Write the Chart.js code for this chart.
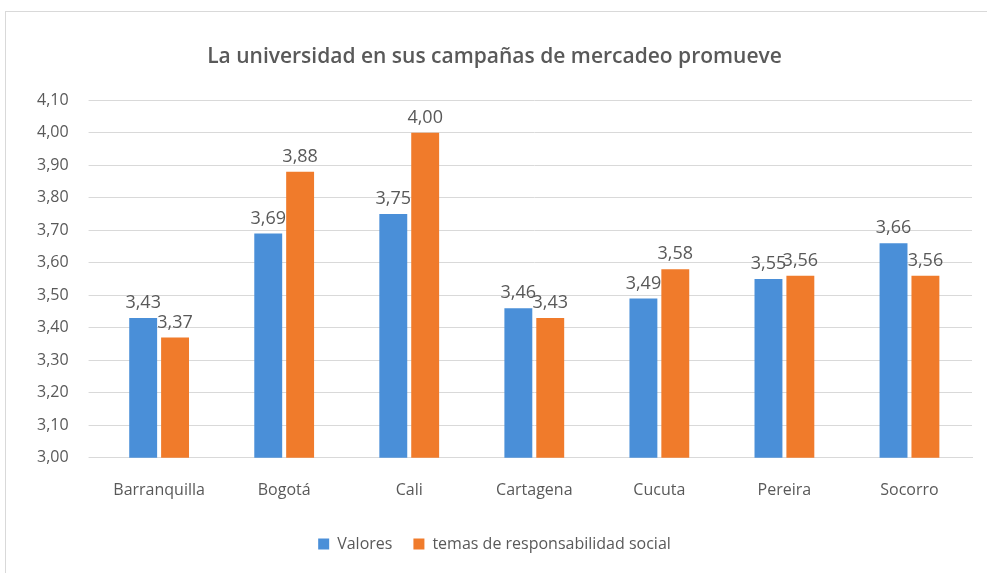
<!DOCTYPE html>
<html>
<head>
<meta charset="utf-8">
<script src="https://cdn.jsdelivr.net/npm/chart.js@4"></script>
<style>
  html, body { margin: 0; padding: 0; background: #fff; overflow: hidden; }
  #marco { position: absolute; left: 5px; top: 11px; width: 990px; height: 580px; border: 1px solid #d9d9d9; box-sizing: border-box; }
  #grafico { position: absolute; left: 0; top: 0; }
</style>
</head>
<body>
<div id="marco"><canvas id="grafico" width="980" height="560"></canvas></div>
<script>
const categorias = ['Barranquilla', 'Bogotá', 'Cali', 'Cartagena', 'Cucuta', 'Pereira', 'Socorro'];
const valores = [3.43, 3.69, 3.75, 3.46, 3.49, 3.55, 3.66];
const temasSocial = [3.37, 3.88, 4.00, 3.43, 3.58, 3.56, 3.56];

const coma = (v) => v.toFixed(2).replace('.', ',');

// etiquetas de valor encima de cada barra
const etiquetas = {
  id: 'etiquetas',
  afterDatasetsDraw(chart) {
    const ctx = chart.ctx;
    ctx.save();
    ctx.font = '18px "Open Sans", sans-serif';
    ctx.fillStyle = '#595959';
    ctx.textAlign = 'center';
    ctx.textBaseline = 'bottom';
    chart.data.datasets.forEach((ds, i) => {
      chart.getDatasetMeta(i).data.forEach((bar, j) => {
        ctx.fillText(coma(ds.data[j]), bar.x, bar.y - 6);
      });
    });
    ctx.restore();
  }
};

const ctx = document.getElementById('grafico').getContext('2d');
new Chart(ctx, {
  type: 'bar',
  data: {
    labels: categorias,
    datasets: [
      { label: 'Valores', data: valores, backgroundColor: '#4a8fd8', categoryPercentage: 0.51, barPercentage: 0.875 },
      { label: 'temas de responsabilidad social', data: temasSocial, backgroundColor: '#f07b2b', categoryPercentage: 0.51, barPercentage: 0.875 }
    ]
  },
  options: {
    responsive: false,
    animation: false,
    layout: { padding: { left: 11, right: 14, top: 20, bottom: 10 } },
    plugins: {
      title: {
        display: true,
        text: 'La universidad en sus campañas de mercadeo promueve',
        color: '#595959',
        font: { family: '"Open Sans", sans-serif', size: 21, weight: '600' },
        padding: { top: 12, bottom: 31 }
      },
      legend: {
        position: 'bottom',
        labels: {
          color: '#595959',
          font: { family: '"Open Sans", sans-serif', size: 16 },
          boxWidth: 11,
          boxHeight: 11,
          padding: 21
        }
      },
      tooltip: { enabled: false }
    },
    scales: {
      x: {
        grid: { display: false },
        border: { color: '#d9d9d9' },
        ticks: { color: '#595959', font: { family: '"Open Sans", sans-serif', size: 16 }, padding: 15 }
      },
      y: {
        min: 3.0,
        max: 4.1,
        ticks: {
          stepSize: 0.1,
          color: '#595959',
          font: { family: '"Open Sans", sans-serif', size: 16 },
          padding: 20,
          callback: (v) => coma(v)
        },
        grid: { color: '#d9d9d9' },
        border: { display: false }
      }
    }
  },
  plugins: [etiquetas]
});
</script>
</body>
</html>
